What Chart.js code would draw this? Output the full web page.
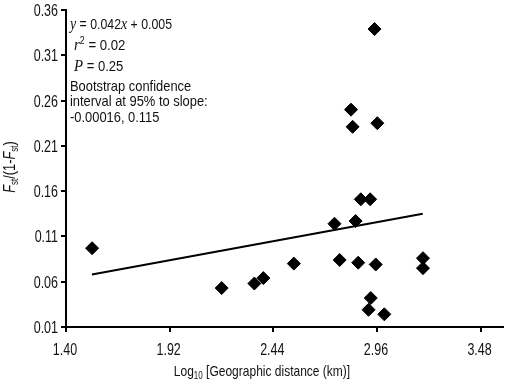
<!DOCTYPE html>
<html lang="en">
<head>
<meta charset="UTF-8">
<title>Fst vs geographic distance</title>
<script src="https://cdn.jsdelivr.net/npm/chart.js"></script>
<style>
  body { margin: 0; background: #fff; }
  #wrap { width: 510px; height: 380px; }
</style>
</head>
<body>
<div id="wrap"><canvas id="chart" width="510" height="380"></canvas></div>
<script>
// log10 geographic distance (km) and Fst/(1-Fst)
const distLog  = [1.531, 2.181, 2.345, 2.390, 2.543, 2.747, 2.773, 2.853, 2.879, 2.926, 2.866,
                  2.954, 2.929, 2.918, 2.997, 3.191, 3.191, 2.948, 2.830, 2.838, 2.962];
const fstRatio = [0.097, 0.053, 0.058, 0.064, 0.080, 0.124, 0.084, 0.127, 0.151, 0.151, 0.081,
                  0.079, 0.042, 0.029, 0.024, 0.086, 0.075, 0.339, 0.250, 0.231, 0.235];
// fitted regression line ends
const trendX = [1.53, 3.19];
const trendY = [0.068, 0.135];

const xTicks = [1.40, 1.92, 2.44, 2.96, 3.48];
const yTicks = [0.01, 0.06, 0.11, 0.16, 0.21, 0.26, 0.31, 0.36];

const ciLines = ['Bootstrap confidence', 'interval at 95% to slope:', '-0.00016, 0.115'];

const SANS = "'Liberation Sans', Arial, sans-serif";
const SERIF = "'Liberation Serif', 'Times New Roman', serif";
const TXT = '#111';

function runsWidth(ctx, runs) {
  let w = 0;
  runs.forEach(r => { ctx.font = r.font; w += ctx.measureText(r.t).width; });
  return w;
}
// draws text runs squeezed horizontally by k (the original type is condensed)
function drawRuns(ctx, x, y, runs, k) {
  ctx.save();
  ctx.translate(x, y);
  ctx.scale(k, 1);
  let cx = 0;
  runs.forEach(r => {
    ctx.font = r.font;
    ctx.fillText(r.t, cx, r.dy || 0);
    cx += ctx.measureText(r.t).width;
  });
  ctx.restore();
}

const textPlugin = {
  id: 'textPlugin',
  afterDraw(chart) {
    const ctx = chart.ctx;
    const xs = chart.scales.x, ys = chart.scales.y;
    ctx.save();
    ctx.fillStyle = TXT;
    ctx.textBaseline = 'alphabetic';
    ctx.textAlign = 'left';
    const s = '15px ' + SANS, it = 'italic 17px ' + SERIF, sub = '10px ' + SANS;

    // tick labels
    const tk = 0.78, ts = '16px ' + SANS;
    ctx.font = ts;
    yTicks.forEach(v => {
      const t = v.toFixed(2);
      const w = ctx.measureText(t).width * tk;
      drawRuns(ctx, 58 - w, ys.getPixelForValue(v) + 6, [{t: t, font: ts}], tk);
    });
    xTicks.forEach(v => {
      const t = v.toFixed(2);
      ctx.font = ts;
      const w = ctx.measureText(t).width * tk;
      drawRuns(ctx, xs.getPixelForValue(v) - w / 2 - 1, 354.5, [{t: t, font: ts}], tk);
    });

    // regression statistics
    drawRuns(ctx, 70, 28.5, [{t: 'y', font: it}, {t: ' = 0.042', font: s}, {t: 'x', font: it}, {t: ' + 0.005', font: s}], 0.82);
    drawRuns(ctx, 74, 50, [{t: 'r', font: it}, {t: '2', font: sub, dy: -6}, {t: ' = 0.02', font: s}], 0.88);
    drawRuns(ctx, 74, 70.7, [{t: 'P', font: it}, {t: ' = 0.25', font: s}], 0.87);
    ciLines.forEach((l, i) => drawRuns(ctx, 70, 91 + i * 15.3, [{t: l, font: s}], 0.86));

    // x axis title
    const xr = [{t: 'Log', font: s}, {t: '10', font: sub, dy: 3}, {t: ' [Geographic distance (km)]', font: s}];
    drawRuns(ctx, 262 - runsWidth(ctx, xr) * 0.8 / 2, 376, xr, 0.8);

    // y axis title, rotated
    const itF = 'italic 16px ' + SANS, ys16 = '16px ' + SANS;
    const yr = [{t: 'F', font: itF}, {t: 'st', font: sub, dy: 3}, {t: '/(1-', font: ys16},
                {t: 'F', font: itF}, {t: 'st', font: sub, dy: 3}, {t: ')', font: ys16}];
    ctx.translate(15, 167);
    ctx.rotate(-Math.PI / 2);
    drawRuns(ctx, -runsWidth(ctx, yr) * 0.8 / 2, 0, yr, 0.8);
    ctx.restore();
  }
};

const axisStyle = {
  border: { display: true, color: '#000', width: 2 },
  grid: { display: true, drawOnChartArea: false, drawTicks: true, tickLength: 5, color: '#000', lineWidth: 2 }
};

new Chart(document.getElementById('chart'), {
  type: 'scatter',
  data: {
    datasets: [{
      data: distLog.map((x, i) => ({ x: x, y: fstRatio[i] })),
      pointStyle: 'rectRot',
      pointRadius: 6.5,
      backgroundColor: '#000',
      borderColor: '#000',
      borderWidth: 1
    }, {
      type: 'line',
      data: trendX.map((x, i) => ({ x: x, y: trendY[i] })),
      borderColor: '#000',
      borderWidth: 2,
      pointRadius: 0,
      fill: false
    }]
  },
  options: {
    responsive: false,
    animation: false,
    layout: { padding: { top: 10, right: 3, left: 0, bottom: 0 } },
    plugins: { legend: { display: false }, tooltip: { enabled: false } },
    scales: {
      x: {
        type: 'linear',
        min: 1.40,
        max: 3.59,
        ...axisStyle,
        afterBuildTicks: sc => { sc.ticks = xTicks.map(v => ({ value: v })); },
        afterFit: sc => { sc.height = 53; },
        ticks: { display: false }
      },
      y: {
        min: 0.01,
        max: 0.36,
        ...axisStyle,
        afterBuildTicks: sc => { sc.ticks = yTicks.map(v => ({ value: v })); },
        afterFit: sc => { sc.width = 66; },
        ticks: { display: false }
      }
    }
  },
  plugins: [textPlugin]
});
</script>
</body>
</html>
